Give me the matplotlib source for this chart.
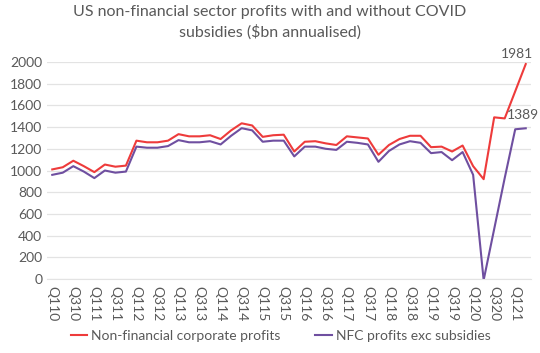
import numpy as np
import matplotlib.pyplot as plt

# quarterly data, Q1 2010 to Q2 2021 ($bn annualised)
quarters = [f"Q{q}{y:02d}" for y in range(10, 22) for q in range(1, 5)][:46]

nfc_profits = [1010, 1030, 1090, 1040, 985, 1055, 1035, 1045,
               1275, 1260, 1260, 1275, 1335, 1315, 1315, 1325,
               1290, 1370, 1435, 1415, 1310, 1325, 1330, 1175,
               1265, 1270, 1250, 1235, 1315, 1305, 1295, 1145,
               1235, 1290, 1320, 1320, 1215, 1220, 1175, 1230,
               1040, 920, 1490, 1480, 1730, 1981]

nfc_exc_subsidies = [960, 980, 1040, 990, 930, 1000, 980, 990,
                     1220, 1210, 1210, 1225, 1280, 1260, 1260, 1270,
                     1240, 1320, 1390, 1370, 1265, 1275, 1275, 1130,
                     1220, 1220, 1200, 1190, 1265, 1255, 1240, 1080,
                     1180, 1240, 1270, 1255, 1160, 1170, 1095, 1170,
                     960, -10, 460, 930, 1380, 1389]

tick_labels = quarters[::2]

plt.rcParams['font.family'] = ['Lato', 'DejaVu Sans']
grey = '#595959'

fig = plt.figure(figsize=(5.4, 3.53), dpi=100)
ax = fig.add_axes([47/540, 1 - 279/353, 484/540, 217/353])

x = np.arange(len(quarters))
ax.plot(x, nfc_profits, color='#ee3b3b', lw=1.5, label='Non-financial corporate profits')
ax.plot(x, nfc_exc_subsidies, color='#6f4fa0', lw=1.5, label='NFC profits exc subsidies')

ax.set_xlim(-0.5, len(quarters) - 0.5)
ax.set_ylim(0, 2000)
ax.set_yticks(range(0, 2001, 200))
ax.set_xticks(x[::2])
ax.set_xticklabels(tick_labels, rotation=-90)
ax.tick_params(axis='both', length=0, labelsize=10, colors=grey)
ax.tick_params(axis='x', pad=5)
ax.grid(axis='y', color='#e3e3e3', lw=0.9)
ax.set_axisbelow(True)
for s in ['top', 'right', 'left']:
    ax.spines[s].set_visible(False)
ax.spines['bottom'].set_color('#e3e3e3')

# end-point labels
ax.annotate(str(nfc_profits[-1]), (x[-1], nfc_profits[-1]), xytext=(-6, 3),
            textcoords='offset points', ha='center', va='bottom', fontsize=10, color=grey)
ax.annotate(str(nfc_exc_subsidies[-1]), (x[-1], nfc_exc_subsidies[-1]), xytext=(-2, 5),
            textcoords='offset points', ha='center', va='bottom', fontsize=10, color=grey)

fig.suptitle('US non-financial sector profits with and without COVID\nsubsidies ($bn annualised)',
             y=0.985, fontsize=11.5, color=grey, linespacing=1.45)

fig.legend(loc='lower center', bbox_to_anchor=(0.52, -0.005), ncol=2, frameon=False,
           fontsize=10, handlelength=1.2, handletextpad=0.3, columnspacing=2.5,
           labelcolor=grey)

fig.savefig('out.png', dpi=100)
